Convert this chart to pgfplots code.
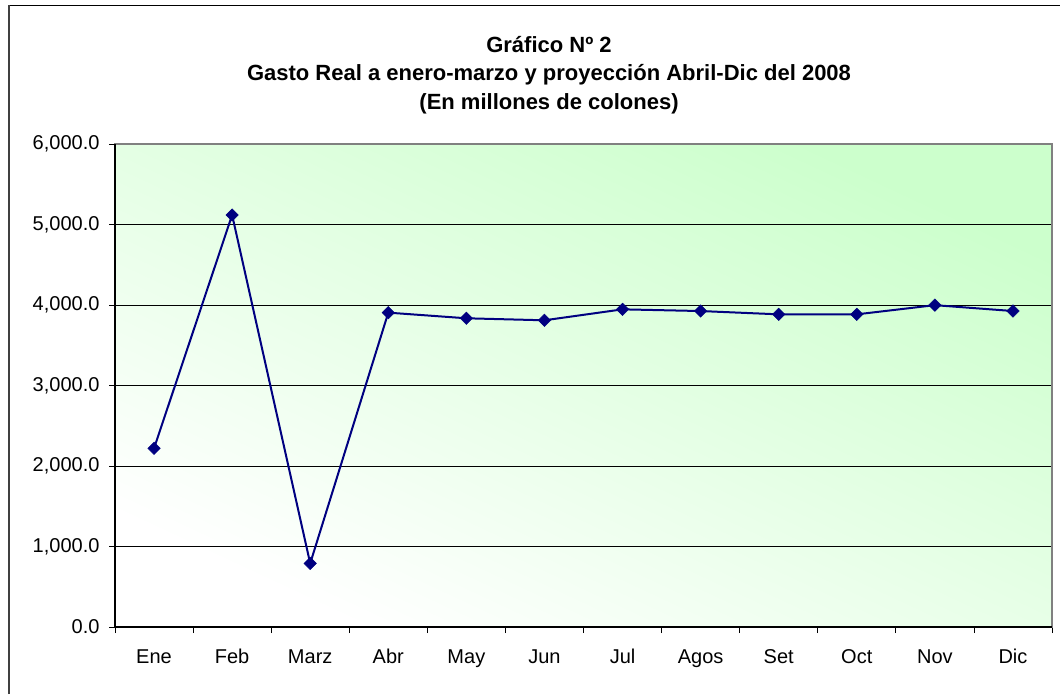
\documentclass[border=0pt]{standalone}
\usepackage{fontspec}
\setmainfont{Liberation Sans}
\usepackage{pgfplots}
\pgfplotsset{compat=1.18}
\definecolor{navyline}{RGB}{0,0,128}
\definecolor{bggreen}{RGB}{204,255,204}
\definecolor{framegray}{RGB}{128,128,128}
\begin{document}
\begin{tikzpicture}[x=1pt,y=1pt]
\useasboundingbox (0,0) rectangle (1060,694);
\draw[line width=1pt, black] (9,688) -- (1060,688);
\draw[line width=2pt, black!75] (9.3,0) -- (9.3,688.5);
\node[anchor=base, font=\fontsize{22}{26}\selectfont\bfseries] at (549,641) {Gráfico Nº 2};
\node[anchor=base, font=\fontsize{22}{26}\selectfont\bfseries] at (549,613) {Gasto Real a enero-marzo y proyección Abril-Dic del 2008};
\node[anchor=base, font=\fontsize{22}{26}\selectfont\bfseries] at (549,584) {(En millones de colones)};
\begin{axis}[
  at={(115pt,67pt)}, anchor=south west,
  scale only axis, width=937pt, height=483pt,
  xmin=0.5, xmax=12.5, ymin=0, ymax=6000,
  xtick={0.5,1.5,...,12.5},
  x tick label as interval=true,
  xticklabels={Ene,Feb,Marz,Abr,May,Jun,Jul,Agos,Set,Oct,Nov,Dic},
  ytick={0,1000,...,6000},
  xtick pos=bottom, ytick pos=left,
  tick align=outside,
  major tick length=6pt,
  tick style={black, line width=0.8pt},
  ymajorgrids=true,
  major grid style={black, line width=1pt},
  axis line style={draw=framegray, line width=1.5pt},
  axis background/.style={shade, shading=axis, top color=bggreen, bottom color=white, shading angle=-25},
  /pgf/number format/assume math mode=true,
  yticklabel={\pgfmathprintnumber[fixed, fixed zerofill, precision=1, 1000 sep={,}]{\tick}},
  ticklabel style={font=\fontsize{20}{24}\selectfont, text=black},
  xticklabel style={anchor=base, yshift=-30pt},
  yticklabel style={xshift=-6pt},
  clip=false,
]
\draw[black, line width=1.5pt] (rel axis cs:0,1) -- (rel axis cs:0,0) -- (rel axis cs:1,0);
\addplot[navyline, line width=2pt, mark=square*, mark size=4.4pt, mark options={fill=navyline, solid, rotate=45, line width=0.5pt}]
coordinates {
(1,2220) (2,5118) (3,790) (4,3905) (5,3835) (6,3810)
(7,3946) (8,3925) (9,3884) (10,3884) (11,3998) (12,3925)
};
\end{axis}
\end{tikzpicture}
\end{document}
